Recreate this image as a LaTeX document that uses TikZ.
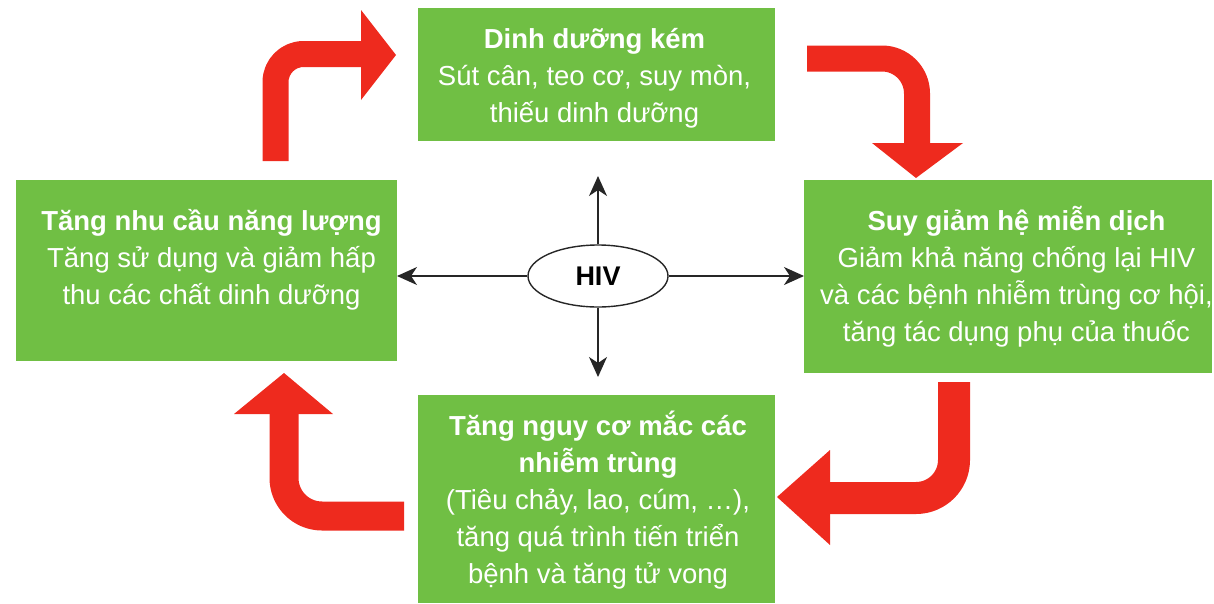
\documentclass[tikz,border=0pt]{standalone}
\usepackage{fontspec}
\setmainfont{Liberation Sans}
\usetikzlibrary{arrows.meta,shapes.geometric}
\definecolor{boxgreen}{RGB}{112,191,68}
\definecolor{arrowred}{RGB}{238,42,30}
\definecolor{darkline}{RGB}{38,38,38}
\newcommand{\myTopStrut}{\rule{0pt}{28pt}}
\newcommand{\myBotStrut}{\rule[-10pt]{0pt}{10pt}}
\tikzset{
  greenbox/.style={fill=boxgreen, draw=none, inner sep=0pt, outer sep=0pt},
  boxtext/.style={text=white, align=center, inner sep=0pt, outer sep=0pt,
    font=\fontsize{27.5}{37}\selectfont, anchor=north},
  redshaft/.style={draw=arrowred, line cap=butt, line join=round},
  redhead/.style={fill=arrowred, draw=none},
  hivarrow/.style={draw=darkline, line width=1.4pt,
    -{Stealth[length=20pt,width=18pt,inset=6pt]}},
}
\begin{document}
\begin{tikzpicture}[x=1pt,y=-1pt]
\useasboundingbox (0,0) rectangle (1214,603);

% boxes
\node[greenbox, minimum width=357pt, minimum height=133pt] (top) at (596.5,74.5) {};
\node[greenbox, minimum width=408pt, minimum height=193pt] (right) at (1008,276.5) {};
\node[greenbox, minimum width=381pt, minimum height=181pt] (left) at (206.5,270.5) {};
\node[greenbox, minimum width=357pt, minimum height=208pt] (bottom) at (596.5,499) {};

% texts
\node[boxtext] (toptext) at (594.5,20) {\myTopStrut{\bfseries Dinh dưỡng kém}\\Sút cân, teo cơ, suy mòn,\\thiếu dinh dưỡng\myBotStrut};
\node[boxtext] (righttext) at (1016.5,202) {\myTopStrut{\bfseries Suy giảm hệ miễn dịch}\\Giảm khả năng chống lại HIV\\và các bệnh nhiễm trùng cơ hội,\\tăng tác dụng phụ của thuốc\myBotStrut};
\node[boxtext] (lefttext) at (211.5,202) {\myTopStrut{\bfseries Tăng nhu cầu năng lượng}\\Tăng sử dụng và giảm hấp\\thu các chất dinh dưỡng\myBotStrut};
\node[boxtext] (bottomtext) at (598,407) {\myTopStrut{\bfseries Tăng nguy cơ mắc các}\\{\bfseries nhiễm trùng}\\(Tiêu chảy, lao, cúm, …),\\tăng quá trình tiến triển\\bệnh và tăng tử vong\myBotStrut};

% HIV
\node[draw=darkline, line width=1.4pt, ellipse, minimum width=140pt, minimum height=62pt,
  inner sep=0pt, font=\bfseries\fontsize{27}{30}\selectfont] (hiv) at (598,276) {HIV};

\coordinate (upend) at (598,176);
\coordinate (downend) at (598,377);
\draw[hivarrow] (hiv.north) -- (upend);
\draw[hivarrow] (hiv.south) -- (downend);
\draw[hivarrow] (hiv.west) -- (hiv.west -| left.east);
\draw[hivarrow] (hiv.east) -- (hiv.east -| right.west);

% red cycle arrows
\coordinate (r1s) at (275.5,161);
\coordinate (r1c) at (275.5,54);
\coordinate (r1e) at (362,54);
\draw[redshaft, line width=26pt, rounded corners=28pt] (r1s) -- (r1c) -- (r1e);
\fill[redhead] (361,10) -- (396,55) -- (361,100) -- cycle;

\coordinate (r2s) at (807,58.5);
\coordinate (r2c) at (917,58.5);
\coordinate (r2e) at (917,144);
\draw[redshaft, line width=26pt, rounded corners=35pt] (r2s) -- (r2c) -- (r2e);
\fill[redhead] (872,143) -- (916,178) -- (963,143) -- cycle;

\coordinate (r3s) at (954,382);
\coordinate (r3c) at (954,498);
\coordinate (r3e) at (829,498);
\draw[redshaft, line width=32pt, rounded corners=38pt] (r3s) -- (r3c) -- (r3e);
\fill[redhead] (830,450) -- (777,497) -- (830,545) -- cycle;

\coordinate (r4s) at (404,516);
\coordinate (r4c) at (284,516);
\coordinate (r4e) at (284,413);
\draw[redshaft, line width=29pt, rounded corners=38pt] (r4s) -- (r4c) -- (r4e);
\fill[redhead] (234,414) -- (284,373) -- (333,414) -- cycle;
\end{tikzpicture}
\end{document}
